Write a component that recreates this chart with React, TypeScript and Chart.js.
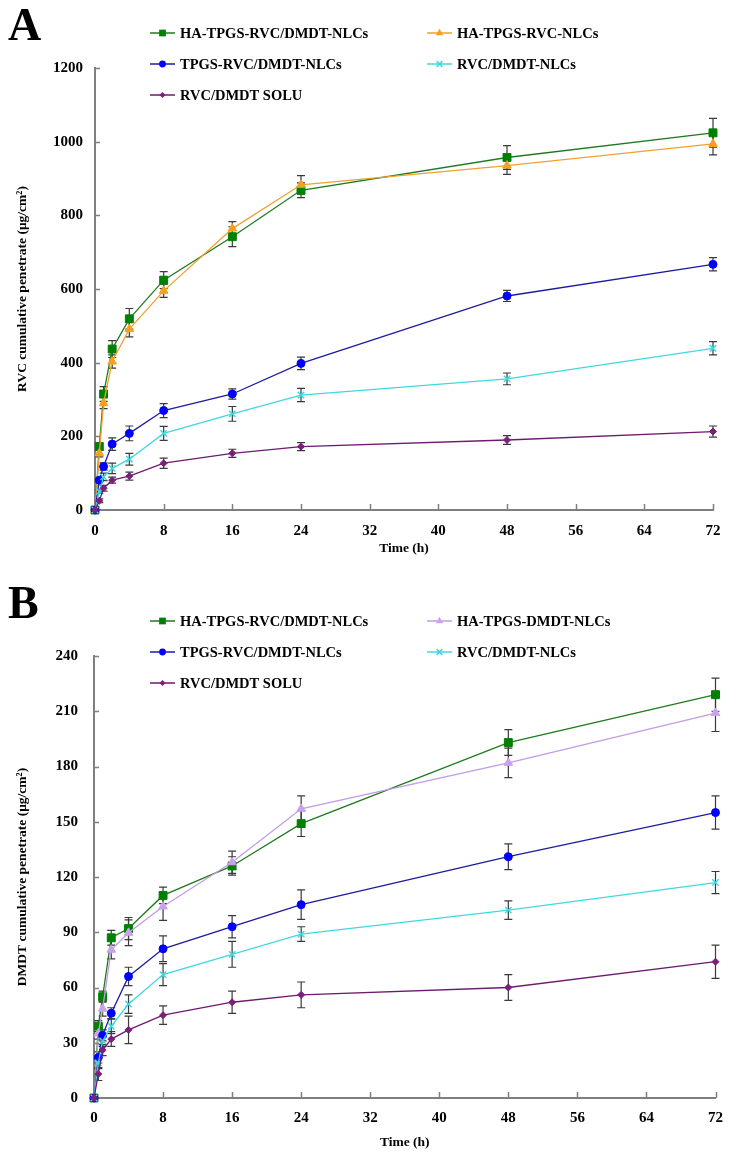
import React, { useEffect, useRef } from "react";
import { Chart, registerables } from "chart.js";

Chart.register(...registerables);

// ---------- data ----------
const timeHours = [0, 0.5, 1, 2, 4, 8, 16, 24, 48, 72];
const xTickStep = 8;
const xMax = 72;

// Panel A (RVC)
const aNames = ["HA-TPGS-RVC/DMDT-NLCs", "HA-TPGS-RVC-NLCs", "TPGS-RVC/DMDT-NLCs", "RVC/DMDT-NLCs", "RVC/DMDT SOLU"];
const aHaTpgsRvcDmdt = [0, 172, 315, 437, 519, 624, 742, 868, 957, 1024];
const aHaTpgsRvcDmdtErr = [0, 10, 20, 23, 28, 23, 27, 20, 32, 39];
const aHaTpgsRvc = [0, 154, 290, 403, 491, 595, 764, 883, 935, 994];
const aHaTpgsRvcErr = [0, 10, 15, 18, 21, 18, 19, 25, 24, 30];
const aTpgsRvcDmdt = [0, 81, 118, 179, 208, 270, 315, 398, 581, 667];
const aTpgsRvcDmdtErr = [0, 5, 10, 17, 20, 19, 14, 17, 15, 18];
const aRvcDmdtNlc = [0, 50, 90, 113, 138, 208, 261, 312, 356, 439];
const aRvcDmdtNlcErr = [0, 5, 10, 14, 16, 19, 20, 18, 16, 18];
const aRvcDmdtSolu = [0, 25, 59, 81, 92, 127, 154, 172, 190, 213];
const aRvcDmdtSoluErr = [0, 5, 8, 8, 11, 14, 11, 11, 12, 15];
const aYMax = 1200;
const aYStep = 200;

// Panel B (DMDT)
const bNames = ["HA-TPGS-RVC/DMDT-NLCs", "HA-TPGS-DMDT-NLCs", "TPGS-RVC/DMDT-NLCs", "RVC/DMDT-NLCs", "RVC/DMDT SOLU"];
const bHaTpgsRvcDmdt = [0, 39, 55, 87, 92, 110, 126, 149, 193, 219];
const bHaTpgsRvcDmdtErr = [0, 3, 3, 4, 6, 4.5, 5, 7, 7, 9];
const bHaTpgsDmdt = [0, 35, 48.5, 80.5, 89.7, 104, 128, 157, 182, 209];
const bHaTpgsDmdtErr = [0, 3, 4, 5, 7, 7.5, 6, 7, 8, 10];
const bTpgsRvcDmdt = [0, 22, 34, 46, 66, 81, 93, 105, 131, 155];
const bTpgsRvcDmdtErr = [0, 3, 3, 3, 5, 7, 6, 8, 7, 9];
const bRvcDmdtNlc = [0, 19, 31, 39, 51, 67, 78, 89, 102, 117];
const bRvcDmdtNlcErr = [0, 3, 3, 4, 5, 6, 7, 4, 5, 6];
const bRvcDmdtSolu = [0, 13, 26, 32, 37, 45, 52, 56, 60, 74];
const bRvcDmdtSoluErr = [0, 3.5, 3, 4, 7.5, 5, 6, 7, 7, 9];
const bYMax = 240;
const bYStep = 30;

// ---------- styles ----------
const FONT = "'Liberation Serif', 'Times New Roman', serif";
const styles = {
  green: { line: "#1f7a1f", fill: "#008000", point: "rect", r: 5.6 },
  orange: { line: "#f0a030", fill: "#f5a020", point: "triangle", r: 5 },
  lavender: { line: "#c39be6", fill: "#c8a2ea", point: "triangle", r: 5 },
  blue: { line: "#1c1ca0", fill: "#0000ff", point: "circle", r: 4 },
  cyan: { line: "#40d8e0", fill: "#40d8e0", point: "crossRot", r: 4.5 },
  purple: { line: "#6e1a6e", fill: "#7b1f7b", point: "rectRot", r: 3.5 },
};

function makeDataset(label: string, values: number[], errs: number[], st: any, idx: number) {
  return {
    label,
    data: timeHours.map((t, i) => ({ x: t, y: values[i] })),
    errors: errs,
    borderColor: st.line,
    backgroundColor: st.fill,
    pointBackgroundColor: st.fill,
    pointBorderColor: st.fill,
    pointBorderWidth: st.point === "crossRot" ? 1.5 : 1,
    pointStyle: st.point,
    pointRadius: st.r,
    borderWidth: 1.3,
    tension: 0,
    clip: false,
    order: 10 - idx,
    legendStyle: st,
  };
}

// error bars drawn through the chart's scales
const errorBarPlugin = {
  id: "errorBars",
  beforeDatasetsDraw(chart: any) {
    const ctx = chart.ctx;
    const xs = chart.scales.x;
    const ys = chart.scales.y;
    ctx.save();
    ctx.strokeStyle = "#3a3a3a";
    ctx.lineWidth = 1.2;
    chart.data.datasets.forEach((ds: any) => {
      ds.data.forEach((p: any, i: number) => {
        const e = ds.errors ? ds.errors[i] : 0;
        if (!e) return;
        const x = xs.getPixelForValue(p.x);
        const yt = ys.getPixelForValue(p.y + e);
        const yb = ys.getPixelForValue(p.y - e);
        ctx.beginPath();
        ctx.moveTo(x, yt);
        ctx.lineTo(x, yb);
        ctx.moveTo(x - 4, yt);
        ctx.lineTo(x + 4, yt);
        ctx.moveTo(x - 4, yb);
        ctx.lineTo(x + 4, yb);
        ctx.stroke();
      });
    });
    ctx.restore();
  },
};

function drawMarker(ctx: CanvasRenderingContext2D, st: any, x: number, y: number) {
  ctx.save();
  ctx.fillStyle = st.fill;
  ctx.strokeStyle = st.fill;
  ctx.lineWidth = 1.5;
  const r = st.r * 0.85;
  ctx.beginPath();
  if (st.point === "rect") {
    const s = r * Math.SQRT1_2;
    ctx.rect(x - s, y - s, 2 * s, 2 * s);
    ctx.fill();
  } else if (st.point === "triangle") {
    ctx.moveTo(x, y - r);
    ctx.lineTo(x + r * 0.87, y + r * 0.5);
    ctx.lineTo(x - r * 0.87, y + r * 0.5);
    ctx.closePath();
    ctx.fill();
  } else if (st.point === "circle") {
    ctx.arc(x, y, r, 0, Math.PI * 2);
    ctx.fill();
  } else if (st.point === "crossRot") {
    const s = r * 0.75;
    ctx.moveTo(x - s, y - s);
    ctx.lineTo(x + s, y + s);
    ctx.moveTo(x + s, y - s);
    ctx.lineTo(x - s, y + s);
    ctx.stroke();
  } else if (st.point === "rectRot") {
    ctx.moveTo(x, y - r);
    ctx.lineTo(x + r, y);
    ctx.lineTo(x, y + r);
    ctx.lineTo(x - r, y);
    ctx.closePath();
    ctx.fill();
  }
  ctx.restore();
}

// panel letter, two-column legend and inside tick marks
const decorPlugin = {
  id: "decor",
  afterDraw(chart: any, _args: any, opts: any) {
    const ctx = chart.ctx;
    const area = chart.chartArea;
    ctx.save();
    // panel letter
    ctx.fillStyle = "#000";
    ctx.font = `bold 46px ${FONT}`;
    ctx.textBaseline = "alphabetic";
    ctx.textAlign = "left";
    ctx.fillText(opts.letter, 8, opts.letterBaseline);

    // legend
    const cols = [150, 427];
    const rows = [area.top - 35, area.top - 4, area.top + 27];
    ctx.font = `bold 14.5px ${FONT}`;
    ctx.textBaseline = "middle";
    chart.data.datasets.forEach((ds: any, i: number) => {
      const c = cols[i % 2];
      const r = rows[Math.floor(i / 2)];
      const st = ds.legendStyle;
      ctx.strokeStyle = st.line;
      ctx.lineWidth = 1.5;
      ctx.beginPath();
      ctx.moveTo(c, r);
      ctx.lineTo(c + 25, r);
      ctx.stroke();
      drawMarker(ctx, st, c + 12.5, r);
      ctx.fillStyle = "#000";
      ctx.fillText(ds.label, c + 30, r + 1);
    });

    // inside tick marks
    const xs = chart.scales.x;
    const ys = chart.scales.y;
    ctx.strokeStyle = "#7f7f7f";
    ctx.lineWidth = 1.5;
    ctx.beginPath();
    ys.ticks.forEach((t: any) => {
      const y = Math.round(ys.getPixelForValue(t.value)) + 0.5;
      if (t.value === 0) return;
      ctx.moveTo(area.left, y);
      ctx.lineTo(area.left + 5, y);
    });
    xs.ticks.forEach((t: any) => {
      if (t.value === 0) return;
      const x = Math.round(xs.getPixelForValue(t.value)) + 0.5;
      ctx.moveTo(x, area.bottom);
      ctx.lineTo(x, area.bottom - 6);
    });
    ctx.stroke();
    ctx.restore();
  },
};

function buildConfig(p: any) {
  const tickFont = { family: FONT, weight: "bold" as const, size: 15 };
  const titleFont = { family: FONT, weight: "bold" as const, size: 13.5 };
  return {
    type: "line" as const,
    data: { datasets: p.datasets },
    plugins: [errorBarPlugin, decorPlugin],
    options: {
      animation: false,
      responsive: false,
      devicePixelRatio: 1,
      events: [],
      layout: { padding: { left: 0, top: p.padTop, right: p.padRight, bottom: 0 } },
      plugins: {
        legend: { display: false },
        tooltip: { enabled: false },
        decor: { letter: p.letter, letterBaseline: p.letterBaseline },
      },
      scales: {
        x: {
          type: "linear",
          min: 0,
          max: xMax,
          afterFit: (s: any) => {
            s.height = p.xHeight;
          },
          ticks: {
            stepSize: xTickStep,
            autoSkip: false,
            maxRotation: 0,
            padding: p.xTickPad,
            color: "#000",
            font: tickFont,
            callback: (v: any) => String(v),
          },
          grid: { display: false, drawTicks: false },
          border: { display: true, color: "#7f7f7f", width: 2 },
          title: {
            display: true,
            text: "Time (h)",
            color: "#000",
            font: titleFont,
            padding: { top: 0, bottom: p.xTitlePad },
          },
        },
        y: {
          type: "linear",
          min: 0,
          max: p.yMax,
          afterFit: (s: any) => {
            s.width = p.yWidth;
          },
          ticks: {
            stepSize: p.yStep,
            padding: p.yTickPad,
            color: "#000",
            font: tickFont,
            callback: (v: any) => String(v),
          },
          grid: { display: false, drawTicks: false },
          border: { display: true, color: "#7f7f7f", width: 2 },
          title: {
            display: true,
            text: p.yTitle,
            color: "#000",
            font: titleFont,
            padding: { top: 14, bottom: 0 },
          },
        },
      },
    },
  };
}

function Panel({ p, height, top }: { p: any; height: number; top: number }) {
  const ref = useRef<HTMLCanvasElement>(null);
  useEffect(() => {
    const chart = new Chart(ref.current as HTMLCanvasElement, buildConfig(p) as any);
    return () => chart.destroy();
  }, []);
  return (
    <canvas
      ref={ref}
      width={734}
      height={height}
      style={{ position: "absolute", left: 0, top, width: 734, height, display: "block" }}
    />
  );
}

const panelA = {
  letter: "A",
  letterBaseline: 40,
  padTop: 68,
  padRight: 21,
  xHeight: 65,
  yWidth: 95,
  xTickPad: 12,
  yTickPad: 12,
  xTitlePad: 18,
  yMax: aYMax,
  yStep: aYStep,
  yTitle: "RVC cumulative penetrate (\u03bcg/cm\u00b2)",
  datasets: [
    makeDataset(aNames[0], aHaTpgsRvcDmdt, aHaTpgsRvcDmdtErr, styles.green, 0),
    makeDataset(aNames[1], aHaTpgsRvc, aHaTpgsRvcErr, styles.orange, 1),
    makeDataset(aNames[2], aTpgsRvcDmdt, aTpgsRvcDmdtErr, styles.blue, 2),
    makeDataset(aNames[3], aRvcDmdtNlc, aRvcDmdtNlcErr, styles.cyan, 3),
    makeDataset(aNames[4], aRvcDmdtSolu, aRvcDmdtSoluErr, styles.purple, 4),
  ],
};

const panelB = {
  letter: "B",
  letterBaseline: 43,
  padTop: 81,
  padRight: 16,
  xHeight: 67,
  yWidth: 94,
  xTickPad: 11,
  yTickPad: 16,
  xTitlePad: 14,
  yMax: bYMax,
  yStep: bYStep,
  yTitle: "DMDT cumulative penetrate (\u03bcg/cm\u00b2)",
  datasets: [
    makeDataset(bNames[0], bHaTpgsRvcDmdt, bHaTpgsRvcDmdtErr, styles.green, 0),
    makeDataset(bNames[1], bHaTpgsDmdt, bHaTpgsDmdtErr, styles.lavender, 1),
    makeDataset(bNames[2], bTpgsRvcDmdt, bTpgsRvcDmdtErr, styles.blue, 2),
    makeDataset(bNames[3], bRvcDmdtNlc, bRvcDmdtNlcErr, styles.cyan, 3),
    makeDataset(bNames[4], bRvcDmdtSolu, bRvcDmdtSoluErr, styles.purple, 4),
  ],
};

export default function App() {
  return (
    <div style={{ position: "absolute", left: 0, top: 0, width: 734, height: 1165, background: "#fff" }}>
      <Panel p={panelA} height={575} top={0} />
      <Panel p={panelB} height={590} top={575} />
    </div>
  );
}
